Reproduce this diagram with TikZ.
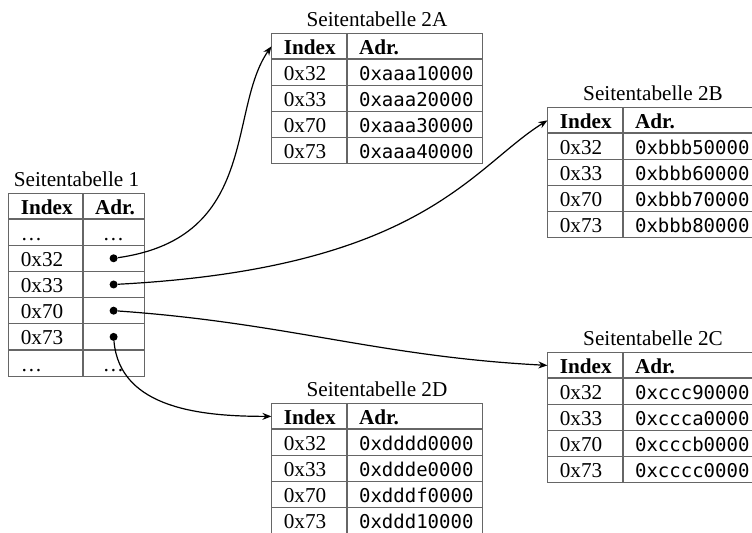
\documentclass[tikz,border=0pt]{standalone}
\usepackage{fontspec}
\setmainfont{Liberation Serif}
\setmonofont{DejaVu Sans Mono}
\usetikzlibrary{matrix, positioning, arrows.meta}
\definecolor{gitter}{gray}{0.4}
\newcommand{\adrfont}{\fontsize{9.5}{12}\selectfont\ttfamily}
\tikzset{
    tabelle/.style={matrix of nodes, nodes in empty cells, inner sep=0pt, anchor=north west,
        row sep=-\pgflinewidth, column sep=-\pgflinewidth,
        nodes={draw=gitter, line width=0.5pt, inner xsep=6pt, inner ysep=0pt,
            minimum height=13pt, text height=8pt, text depth=0pt, anchor=center},
        row 1/.style={nodes={font=\bfseries, minimum height=12.5pt}}},
    tab1/.style={tabelle,
        column 1/.style={nodes={text width=25pt, align=left}},
        column 2/.style={nodes={text width=18.5pt, align=center}}},
    tab2/.style={tabelle,
        column 1/.style={nodes={text width=25.5pt, align=left}},
        column 2/.style={nodes={text width=55.5pt, align=left, font=\adrfont}}},
    titel/.style={inner sep=0pt},
    punkt/.style={circle, fill, inner sep=0pt, minimum size=4pt},
    zeiger/.style={-{Stealth[length=4.5pt, width=3.5pt]}, line width=0.6pt}
}
\begin{document}
\fontsize{10.6}{12.5}\selectfont
\begin{tikzpicture}[x=0.5pt, y=0.5pt]
    \useasboundingbox (0,0) rectangle (752,533);

    % erste Stufe
    \matrix[tab1] (t1) at (8,340) {
        Index & Adr. \\
        \dots & \dots \\
        0x32 & \\
        0x33 & \\
        0x70 & \\
        0x73 & \\
        \dots & \dots \\
    };
    \node[titel, above=3pt of t1] (t1titel) {Seitentabelle 1};

    % zweite Stufe
    \matrix[tab2] (t2a) at (271,500) {
        Index & Adr. \\
        0x32 & 0xaaa10000 \\
        0x33 & 0xaaa20000 \\
        0x70 & 0xaaa30000 \\
        0x73 & 0xaaa40000 \\
    };
    \node[titel, above=3pt of t2a] (t2atitel) {Seitentabelle 2A};

    \matrix[tab2] (t2b) at (547,426) {
        Index & Adr. \\
        0x32 & 0xbbb50000 \\
        0x33 & 0xbbb60000 \\
        0x70 & 0xbbb70000 \\
        0x73 & 0xbbb80000 \\
    };
    \node[titel, above=3pt of t2b] (t2btitel) {Seitentabelle 2B};

    \matrix[tab2] (t2c) at (547,181) {
        Index & Adr. \\
        0x32 & 0xccc90000 \\
        0x33 & 0xccca0000 \\
        0x70 & 0xcccb0000 \\
        0x73 & 0xcccc0000 \\
    };
    \node[titel, above=3pt of t2c] (t2ctitel) {Seitentabelle 2C};

    \matrix[tab2] (t2d) at (271,130) {
        Index & Adr. \\
        0x32 & 0xdddd0000 \\
        0x33 & 0xddde0000 \\
        0x70 & 0xdddf0000 \\
        0x73 & 0xddd10000 \\
    };
    \node[titel, above=3pt of t2d] (t2dtitel) {Seitentabelle 2D};

    % Zeiger
    \node[punkt] (p32) at (t1-3-2) {};
    \node[punkt] (p33) at (t1-4-2) {};
    \node[punkt] (p70) at (t1-5-2) {};
    \node[punkt] (p73) at (t1-6-2) {};

    \draw[zeiger] (p32) to[out=8, in=235, out looseness=1.4, in looseness=0.75] (t2a-1-1.west);
    \draw[zeiger] (p33) to[out=3, in=212, out looseness=1.7, in looseness=0.5] (t2b-1-1.west);
    \draw[zeiger] (p70) to[out=-4, in=177] (t2c-1-1.west);
    \draw[zeiger] (p73) to[out=-85, in=180] (t2d-1-1.west);
\end{tikzpicture}
\end{document}
